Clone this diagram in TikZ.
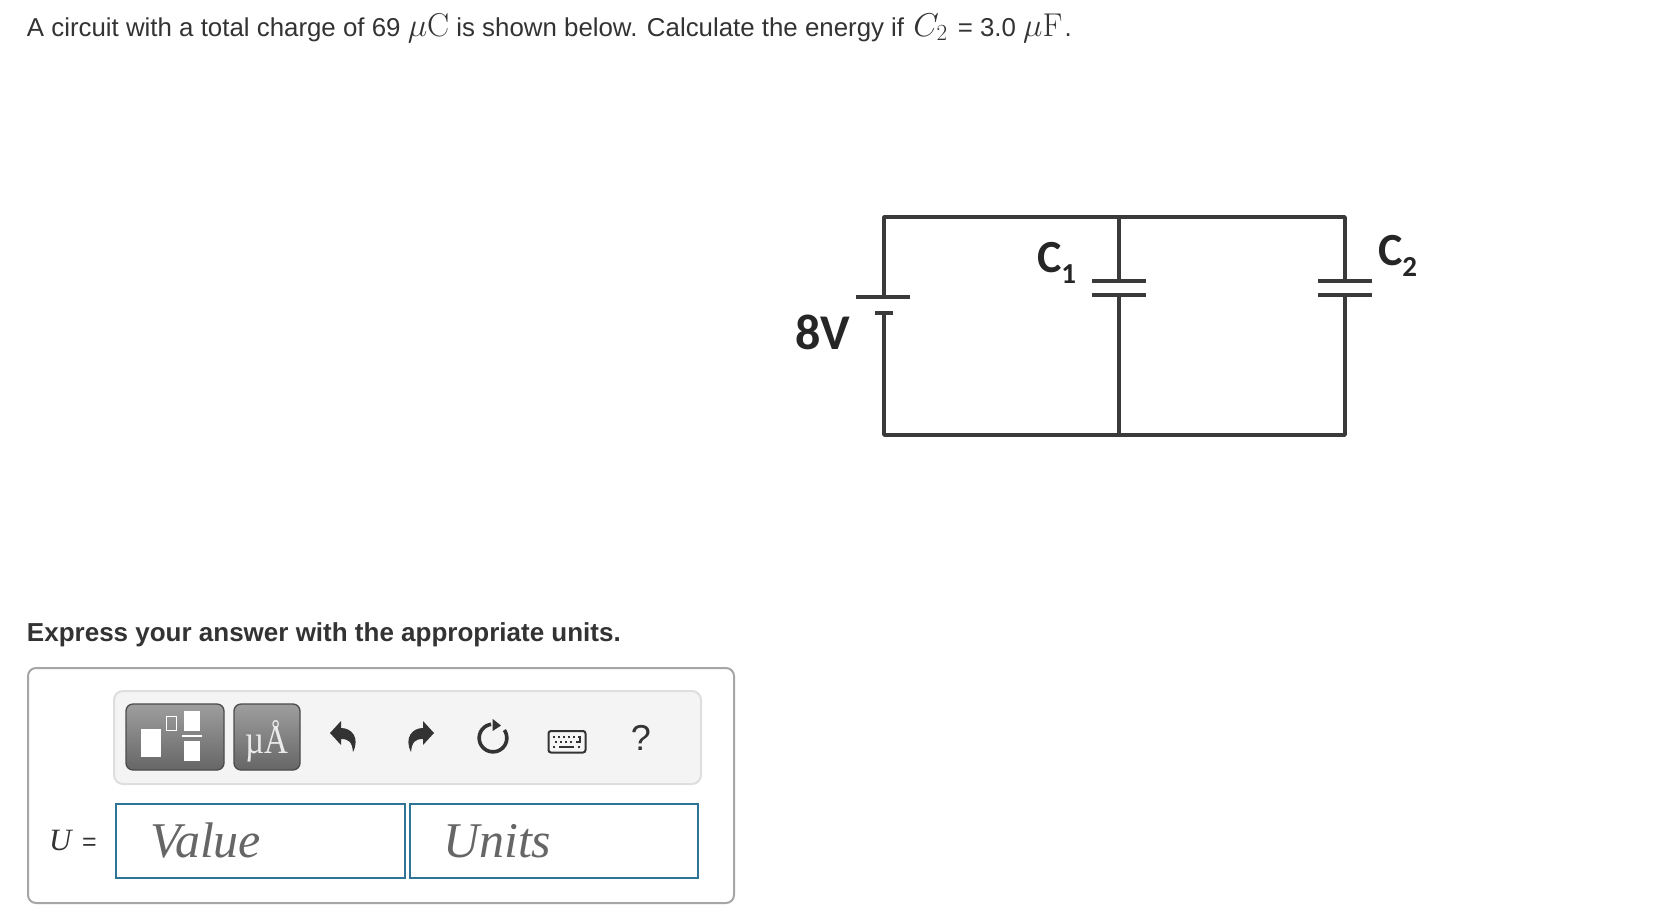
\RequirePackage{fix-cm}
\documentclass[tikz,border=0pt]{standalone}
\usepackage[no-math]{fontspec}
\setmainfont{Liberation Sans}
\newfontfamily\serifx{Liberation Serif}
\newfontfamily\cali{Carlito}
\newcommand{\fsz}[1]{\fontsize{#1}{#1}\selectfont}
\newcommand{\qmath}[1]{{\fsz{33}$#1$}}
\definecolor{ink}{HTML}{333333}
\definecolor{wire}{HTML}{3A3A3A}
\definecolor{inblue}{HTML}{2F7396}
\tikzset{
  txt/.style={inner sep=0pt,outer sep=0pt,anchor=base west,text=ink},
  wireline/.style={draw=wire,line width=3.6pt,line join=round,line cap=round},
  plate/.style={draw=wire,line width=3.2pt},
  toolbtn/.style={rounded corners=7pt,top color=black!38,bottom color=black!60,draw=black!70,line width=1.3pt},
  answerbox/.style={draw=inblue,line width=2pt,fill=white},
  hint/.style={inner sep=0pt,outer sep=0pt,anchor=base west,text=black!60},
  iconfill/.style={fill=ink,draw=none},
}
\begin{document}
\begin{tikzpicture}[x=1pt,y=-1pt]
\useasboundingbox (0,0) rectangle (1656,916);
\fill[white] (0,0) rectangle (1656,916);

% question
\node[txt] (question) at (27,36) {\fsz{25.85}A circuit with a total charge of 69 \qmath{\mu\mathrm{C}} is shown below. Calculate the energy if \kern2pt\qmath{C_2}\kern3pt{} = 3.0 \qmath{\mu\mathrm{F}}\kern2pt.};
\node[txt] (express) at (27,641) {\fsz{26}\bfseries Express your answer with the appropriate units.};

% circuit corners
\coordinate (tl) at (884,217);
\coordinate (tm) at (1119,217);
\coordinate (tr) at (1345,217);
\coordinate (bl) at (884,435);
\coordinate (bm) at (1119,435);
\coordinate (br) at (1345,435);
\coordinate (batA) at (884,297);
\coordinate (batB) at (884,313);
\coordinate (c1A) at (1119,281);
\coordinate (c1B) at (1119,295);
\coordinate (c2A) at (1345,281);
\coordinate (c2B) at (1345,295);
\draw[wireline] (batA) -- (tl) -- (tr) -- (c2A);
\draw[wireline] (c2B) -- (br) -- (bl) -- (batB);
\draw[wireline] (tm) -- (c1A);
\draw[wireline] (c1B) -- (bm);
\draw[plate] ([xshift=-28pt]batA) -- ([xshift=26pt]batA);
\draw[plate] ([xshift=-9pt]batB) -- ([xshift=9pt]batB);
\draw[plate] ([xshift=-27pt]c1A) -- ([xshift=27pt]c1A);
\draw[plate] ([xshift=-27pt]c1B) -- ([xshift=27pt]c1B);
\draw[plate] ([xshift=-27pt]c2A) -- ([xshift=27pt]c2A);
\draw[plate] ([xshift=-27pt]c2B) -- ([xshift=27pt]c2B);
\node[txt,text=black!85] (vlabel) at (795,349) {\cali\bfseries\fsz{50}8V};
\node[txt,text=black!85] (c1label) at (1037,272) {\cali\bfseries\fsz{46}C\raisebox{-11pt}{\fsz{29}1}};
\node[txt,text=black!85] (c2label) at (1378,265) {\cali\bfseries\fsz{46}C\raisebox{-11pt}{\fsz{29}2}};

% answer frame
\draw[draw=black!35,line width=2pt,rounded corners=8pt] (28,668) rectangle (734,903);
\draw[draw=black!13,fill=black!4.5,line width=2pt,rounded corners=9pt] (114,691) rectangle (701,784);

% buttons
\path[toolbtn] (126,704) rectangle (224,770);
\path[toolbtn] (234,704) rectangle (300,770);
\fill[white] (141,729) rectangle (161,757);
\draw[white,line width=1.6pt] (166.5,716.5) rectangle (176.5,730.5);
\fill[white] (184,711) rectangle (200,731);
\fill[white] (182,735) rectangle (202,737);
\fill[white] (184,741) rectangle (200,761);
\node[txt,text=white!92!black,anchor=base] (mua) at (267,753) {\serifx\fsz{33}\scalebox{1}[1.22]{µÅ}};

% undo / redo
\path[iconfill] (330,733) -- (341,721) -- (341,728) .. controls (352,728) and (360,738) .. (353,752) .. controls (352,742) and (349,739) .. (341,739) -- (341,745) -- cycle;
\path[iconfill] (434,733) -- (423,721) -- (423,728) .. controls (412,728) and (404,738) .. (411,752) .. controls (412,742) and (415,739) .. (423,739) -- (423,745) -- cycle;

% refresh
\draw[ink,line width=3.6pt] plot[domain=-35:262,samples=50,smooth] ({493+13.8*cos(\x)},{738+13.8*sin(\x)});
\path[iconfill] (492.7,719) -- (501,725.5) -- (492.7,731) -- cycle;

% keyboard
\draw[ink,line width=2pt,rounded corners=2.5pt,fill=white!96!black] (548.5,731) rectangle (585.5,752.5);
\foreach \x in {553,558,563,568,573,578} \fill[ink] (\x,736) rectangle ++(2.2,2);
\foreach \x in {555,560,565,570} \fill[ink] (\x,741) rectangle ++(2.2,2);
\fill[ink] (576,741) rectangle (581,743);
\fill[ink] (579,736) rectangle (581,743);
\fill[ink] (553,746) rectangle ++(2.2,2);
\fill[ink] (559,746) rectangle (574,748);
\fill[ink] (578,746) rectangle ++(2.2,2);

\node[txt,anchor=base,text=ink] (help) at (641,750) {\fsz{36}?};

% answer row
\node[txt,text=ink] (ulabel) at (49,850) {\serifx\itshape\fsz{31}U};
\node[txt,text=ink] (eqlabel) at (82,850) {\fsz{25}=};
\draw[answerbox] (116,804) rectangle (405,878);
\draw[answerbox] (410,804) rectangle (698,878);
\node[hint] (value) at (150,857) {\serifx\itshape\fsz{50}Value};
\node[hint] (units) at (443,857) {\serifx\itshape\fsz{50}Units};
\end{tikzpicture}
\end{document}
